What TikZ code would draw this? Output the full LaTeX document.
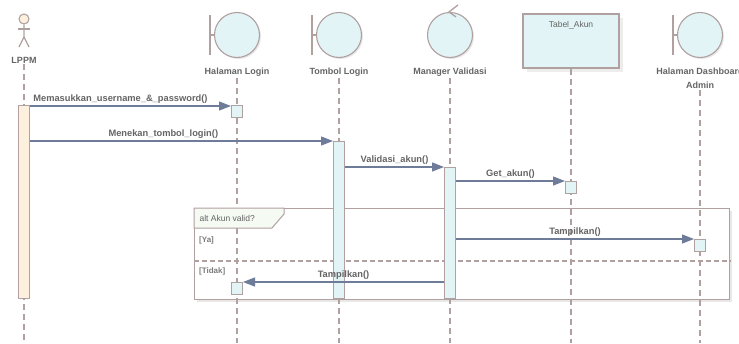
\documentclass[tikz,border=0pt]{standalone}
\usepackage{fontspec}
\setmainfont{Liberation Sans}
\usetikzlibrary{positioning}
\usetikzlibrary{shadows}
\usetikzlibrary{arrows.meta}
\definecolor{umlline}{HTML}{B0A0A0}
\definecolor{umlfill}{HTML}{E2F4F6}
\definecolor{actorfill}{HTML}{FDF0DE}
\definecolor{umlmsg}{HTML}{6E7C9A}
\definecolor{umltext}{HTML}{646464}
\definecolor{altfill}{HTML}{F5FAF3}
\tikzstyle{objhead} = [circle, draw=umlline, line width=1.1pt, fill=umlfill, minimum size=45pt, inner sep=0pt, drop shadow={shadow xshift=1.5pt, shadow yshift=-1.5pt, fill=black!18}]
\tikzstyle{tablebox} = [rectangle, draw=umlline, line width=1.1pt, fill=umlfill, minimum width=96pt, minimum height=54pt, drop shadow={shadow xshift=4pt, shadow yshift=-4pt, fill=black!14}]
\tikzstyle{headline} = [draw=umlline, line width=1.3pt]
\tikzstyle{partname} = [font=\fontsize{9}{14}\selectfont\bfseries, text=umltext, align=center, inner sep=1pt]
\tikzstyle{msgname} = [font=\fontsize{9.3}{10}\selectfont\bfseries, text=umltext, above, inner sep=2pt]
\tikzstyle{lifeline} = [draw=umlline, line width=1.5pt, dash pattern=on 6pt off 4pt]
\tikzstyle{actbar} = [rectangle, draw=umlline, line width=1pt, fill=umlfill, minimum width=11pt, inner sep=0pt, anchor=north]
\tikzstyle{actbox} = [rectangle, draw=umlline, line width=1pt, fill=umlfill, minimum width=11pt, minimum height=12pt, inner sep=0pt, anchor=north]
\tikzstyle{arrow} = [draw=umlmsg, line width=1.3pt, -{Triangle[length=12pt,width=9pt]}]

\begin{document}
\begin{tikzpicture}[x=1pt, y=-1pt]
    \useasboundingbox (0,0) rectangle (739,343);
    \coordinate (bottom) at (0,343);
    \coordinate (altSplit) at (0,261);

    % participants
    \node (lppmHead) [circle, draw=umlline, line width=1.1pt, fill=actorfill, minimum size=10pt, inner sep=0pt] at (24,19) {};
    \draw[headline] (lppmHead.south) -- (24,37) -- (19,47);
    \draw[headline] (24,37) -- (29,47);
    \draw[headline] (18,29) -- (30,29);
    \node (lppm) [partname] at (24,60) {LPPM};

    \node (hlHead) [objhead] at (237,35) {};
    \node (hl) [partname, below=9pt of hlHead] {Halaman Login};
    \node (tlHead) [objhead] at (339,35) {};
    \node (tl) [partname, below=9pt of tlHead] {Tombol Login};
    \node (mvHead) [objhead] at (450,35) {};
    \node (mv) [partname, below=9pt of mvHead] {Manager Validasi};
    \node (taHead) [tablebox] at (571,41) {};
    \node (taName) [font=\fontsize{8.5}{10}\selectfont, text=umltext, below=4pt of taHead.north] {Tabel\_Akun};
    \node (daHead) [objhead] at (700,35) {};
    \node (da) [partname, below=9pt of daHead] {Halaman Dashboard\\Admin};

    % boundary bars and control arrow
    \foreach \b in {hlHead, tlHead, daHead}
        \draw[headline] ([xshift=-4pt, yshift=20pt]\b.west) -- ([xshift=-4pt, yshift=-20pt]\b.west)
                        ([xshift=-4pt]\b.west) -- (\b.west);
    \draw[headline] ([xshift=8pt, yshift=7pt]mvHead.north) -- ([xshift=-1pt]mvHead.north) -- ([xshift=6pt, yshift=-5pt]mvHead.north);

    % alt frame
    \node (altFrame) [rectangle, draw=umlline, line width=1.3pt, fill=white, minimum width=535pt, minimum height=91pt, inner sep=0pt, anchor=north west, drop shadow={shadow xshift=2pt, shadow yshift=-2pt, fill=black!18}] at (194,208) {};

    % lifelines
    \draw[lifeline] (lppm.south) -- (lppm.south |- bottom);
    \draw[lifeline] (hl.south) -- (hl.south |- bottom);
    \draw[lifeline] (tl.south) -- (tl.south |- bottom);
    \draw[lifeline] (mv.south) -- (mv.south |- bottom);
    \draw[lifeline] (taHead.south) -- (taHead.south |- bottom);
    \draw[lifeline] (da.south) -- (da.south |- bottom);
    \draw[draw=umlline, line width=1.2pt, dash pattern=on 5pt off 3pt] (altFrame.west |- altSplit) -- (altFrame.east |- altSplit);

    \draw[headline, line width=1pt, fill=altfill] (altFrame.north west) -- ++(90,0) -- ++(0,6) -- ++(-12,14) -- ++(-78,0) -- cycle;
    \node (altName) [font=\fontsize{8.5}{10}\selectfont, text=umltext, anchor=west] at (196,218) {alt Akun valid?};
    \node (guardYa) [font=\fontsize{8}{10}\selectfont\bfseries, text=umltext!85, anchor=west, fill=white, inner sep=1pt] at (198,240) {[Ya]};
    \node (guardTidak) [font=\fontsize{8}{10}\selectfont\bfseries, text=umltext!85, anchor=west, inner sep=1pt] at (198,271) {[Tidak]};

    % activations
    \node (lppmAct) [actbar, fill=actorfill, minimum height=193pt] at (24,105) {};
    \node (hlBox1) [actbox] at (237,105) {};
    \node (tlAct) [actbar, minimum height=157pt] at (339,141) {};
    \node (mvAct) [actbar, minimum height=131pt] at (450,167) {};
    \node (taBox) [actbox] at (571,181) {};
    \node (daBox) [actbox] at (700,239) {};
    \node (hlBox2) [actbox] at (237,282) {};

    % messages
    \draw[arrow] ([yshift=-1pt]lppmAct.north east) -- node[msgname, pos=0.45] {Memasukkan\_username\_\&\_password()} ([yshift=-1pt]hlBox1.north west);
    \draw[arrow] (lppmAct.east |- tlAct.north) -- node[msgname, pos=0.44] {Menekan\_tombol\_login()} (tlAct.north west);
    \draw[arrow] (tlAct.east |- mvAct.north) -- node[msgname] {Validasi\_akun()} (mvAct.north west);
    \draw[arrow] (mvAct.east |- taBox.north) -- node[msgname] {Get\_akun()} (taBox.north west);
    \draw[arrow] (mvAct.east |- daBox.north) -- node[msgname] {Tampilkan()} (daBox.north west);
    \draw[arrow] (mvAct.west |- hlBox2.north) -- node[msgname] {Tampilkan()} (hlBox2.north east);
\end{tikzpicture}
\end{document}
